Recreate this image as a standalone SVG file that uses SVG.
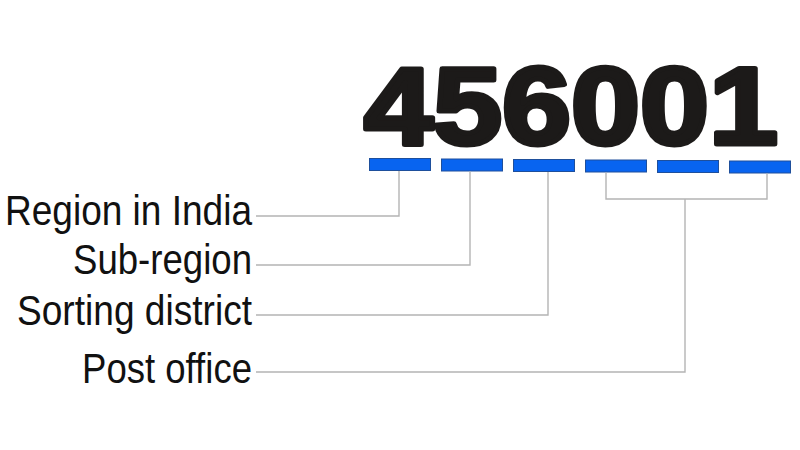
<svg xmlns="http://www.w3.org/2000/svg" width="800" height="450" viewBox="0 0 800 450">
<style>
.lbl{font-family:"Liberation Sans",Arial,sans-serif;font-size:43px;fill:#111;text-anchor:end}
.bar{fill:#0864f0;stroke:#1e4f9c;stroke-width:1}
.con{fill:none;stroke:#b4b4b4;stroke-width:1.4}
</style>
<rect width="800" height="450" fill="#fff"/>
<g id="code">
<text x="364" y="144" textLength="414" lengthAdjust="spacingAndGlyphs" font-family="'Liberation Sans',Arial,sans-serif" font-weight="bold" font-size="110" fill="#1c1a19" stroke="#1c1a19" stroke-width="5" stroke-linejoin="round">456001</text>
</g>
<g id="bars">
<rect class="bar" x="369.5" y="158.5" width="61" height="12"/>
<rect class="bar" x="441.5" y="159" width="61" height="12"/>
<rect class="bar" x="513.5" y="159.5" width="61" height="12"/>
<rect class="bar" x="585.5" y="160" width="61" height="12"/>
<rect class="bar" x="657.5" y="160.5" width="61" height="12"/>
<rect class="bar" x="729.5" y="161" width="61" height="12"/>
</g>
<g id="connectors">
<path class="con" d="M256 216H399V171"/>
<path class="con" d="M256 265H470V171.5"/>
<path class="con" d="M256 315H548V172"/>
<path class="con" d="M606 172.5V199H767V173.5"/>
<path class="con" d="M685 199V372H256"/>
</g>
<g id="region"><text class="lbl" x="252" y="225" textLength="247" lengthAdjust="spacingAndGlyphs">Region in India</text></g>
<g id="subregion"><text class="lbl" x="252" y="274" textLength="179" lengthAdjust="spacingAndGlyphs">Sub-region</text></g>
<g id="sorting"><text class="lbl" x="252" y="325" textLength="235" lengthAdjust="spacingAndGlyphs">Sorting district</text></g>
<g id="post"><text class="lbl" x="252" y="383" textLength="170" lengthAdjust="spacingAndGlyphs">Post office</text></g>
</svg>
